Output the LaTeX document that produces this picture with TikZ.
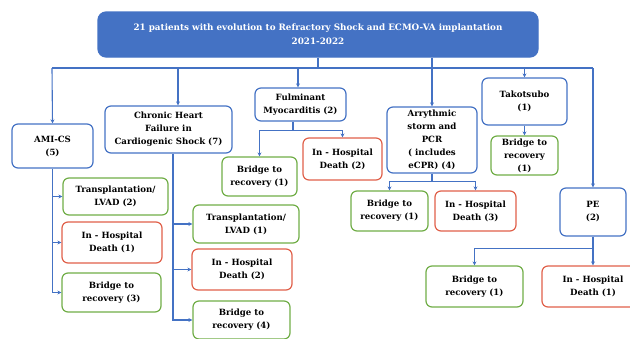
\documentclass[tikz,border=0pt]{standalone}
\usepackage{fontspec}
\setmainfont{DejaVu Serif}
\usepackage{xcolor}
\usepackage{tikz}
\usetikzlibrary{arrows.meta,calc}
\definecolor{boxblue}{HTML}{4472C4}
\definecolor{boxgreen}{HTML}{70AD47}
\definecolor{boxred}{HTML}{E0604A}
\begin{document}
\begin{tikzpicture}[x=1pt,y=-1pt,
  box/.style={draw,rounded corners=6pt,line width=1.2pt,align=center,inner sep=1pt,
    font=\bfseries\fontsize{8.6}{13}\selectfont},
  bluebox/.style={box,draw=boxblue},
  greenbox/.style={box,draw=boxgreen},
  redbox/.style={box,draw=boxred},
  conn/.style={draw=boxblue,line width=1.1pt},
  flow/.style={conn,-{Stealth[length=4pt,width=4pt]}}]
\clip (0,0) rectangle (630,338);
% top box
\node[bluebox,fill=boxblue,text=white,rounded corners=8pt,minimum width=440,minimum height=45,
  font=\bfseries\fontsize{8.8}{14}\selectfont] (top) at (318,34.5)
  {21 patients with evolution to Refractory Shock and ECMO-VA implantation\\2021-2022};
% first level
\node[bluebox,minimum width=81,minimum height=44] (ami) at (52.5,146) {AMI-CS\\(5)};
\node[bluebox,minimum width=127,minimum height=47] (chf) at (168.5,129.5) {Chronic Heart\\Failure in\\Cardiogenic Shock (7)};
\node[bluebox,minimum width=91,minimum height=33] (ful) at (300.5,104.5) {Fulminant\\Myocarditis (2)};
\node[bluebox,minimum width=90,minimum height=66] (arr) at (432,140) {Arrythmic\\storm and\\PCR\\( includes\\eCPR) (4)};
\node[bluebox,minimum width=85,minimum height=47] (tak) at (524.5,101.5) {Takotsubo\\(1)};
\node[bluebox,minimum width=66,minimum height=48] (pe) at (593,212) {PE\\(2)};
% outcomes
\node[greenbox,minimum width=105,minimum height=37] (amit) at (115.5,196.5) {Transplantation/\\LVAD (2)};
\node[redbox,minimum width=100,minimum height=41] (amid) at (112,242.5) {In - Hospital\\Death (1)};
\node[greenbox,minimum width=99,minimum height=39] (amib) at (111.5,292.5) {Bridge to\\recovery (3)};
\node[greenbox,minimum width=106,minimum height=38] (chft) at (246,224) {Transplantation/\\LVAD (1)};
\node[redbox,minimum width=100,minimum height=41] (chfd) at (242,269.5) {In - Hospital\\Death (2)};
\node[greenbox,minimum width=97,minimum height=38] (chfb) at (241.5,320) {Bridge to\\recovery (4)};
\node[greenbox,minimum width=75,minimum height=39] (fulb) at (259.5,176.5) {Bridge to\\recovery (1)};
\node[redbox,minimum width=79,minimum height=42] (fuld) at (342.5,159) {In - Hospital\\Death (2)};
\node[greenbox,minimum width=77,minimum height=40] (arrb) at (389.5,211) {Bridge to\\recovery (1)};
\node[redbox,minimum width=81,minimum height=40] (arrd) at (475.5,211) {In - Hospital\\Death (3)};
\node[greenbox,minimum width=67,minimum height=39] (takb) at (524.5,155.5) {Bridge to\\recovery\\(1)};
\node[greenbox,minimum width=97,minimum height=41] (peb) at (474.5,286.5) {Bridge to\\recovery (1)};
\node[redbox,minimum width=102,minimum height=41] (ped) at (593,286.5) {In - Hospital\\Death (1)};
% main bus
\coordinate (busl) at (52,68);
\coordinate (busr) at (593,68);
\draw[conn] (top.south) -- (top.south |- busl);
\draw[conn] (busl) -- (busr);
\draw[flow] (busl) -- (ami.north);
\draw[flow] ([xshift=9.5pt]chf.north |- busl) -- ([xshift=9.5pt]chf.north);
\draw[flow] ([xshift=-2.5pt]ful.north |- busl) -- ([xshift=-2.5pt]ful.north);
\draw[flow] (tak.north |- busl) -- (tak.north);
\draw[flow] (busr) -- (pe.north);
\draw[flow] (arr.north |- top.south) -- (arr.north);
% AMI-CS
\draw[flow] (ami.south) |- (amib.west);
\draw[flow] (ami.south |- amit.west) -- (amit.west);
\draw[flow] (ami.south |- amid.west) -- (amid.west);
% chronic HF
\coordinate (chfs) at ([xshift=4.5pt]chf.south);
\draw[flow] (chfs) |- (chfb.west);
\draw[flow] (chfs |- chft.west) -- (chft.west);
\draw[flow] (chfs |- chfd.west) -- (chfd.west);
% myocarditis
\coordinate (fuls) at ([xshift=-7.5pt]ful.south);
\path (fuls) ++(0,9) coordinate (fulj);
\draw[conn] (fuls) -- (fulj);
\draw[flow] (fulj) -| (fulb.north);
\draw[flow] (fulj) -| (fuld.north);
% arrythmic storm
\path (arr.south) ++(0,8) coordinate (arrj);
\draw[conn] (arr.south) -- (arrj);
\draw[flow] (arrj) -| (arrb.north);
\draw[flow] (arrj) -| (arrd.north);
% takotsubo
\draw[flow] (tak.south) -- (takb.north);
% PE
\path (pe.south) ++(0,12) coordinate (pej);
\draw[flow] (pe.south) -- (ped.north);
\draw[flow] (pej) -| (peb.north);
\end{tikzpicture}
\end{document}
